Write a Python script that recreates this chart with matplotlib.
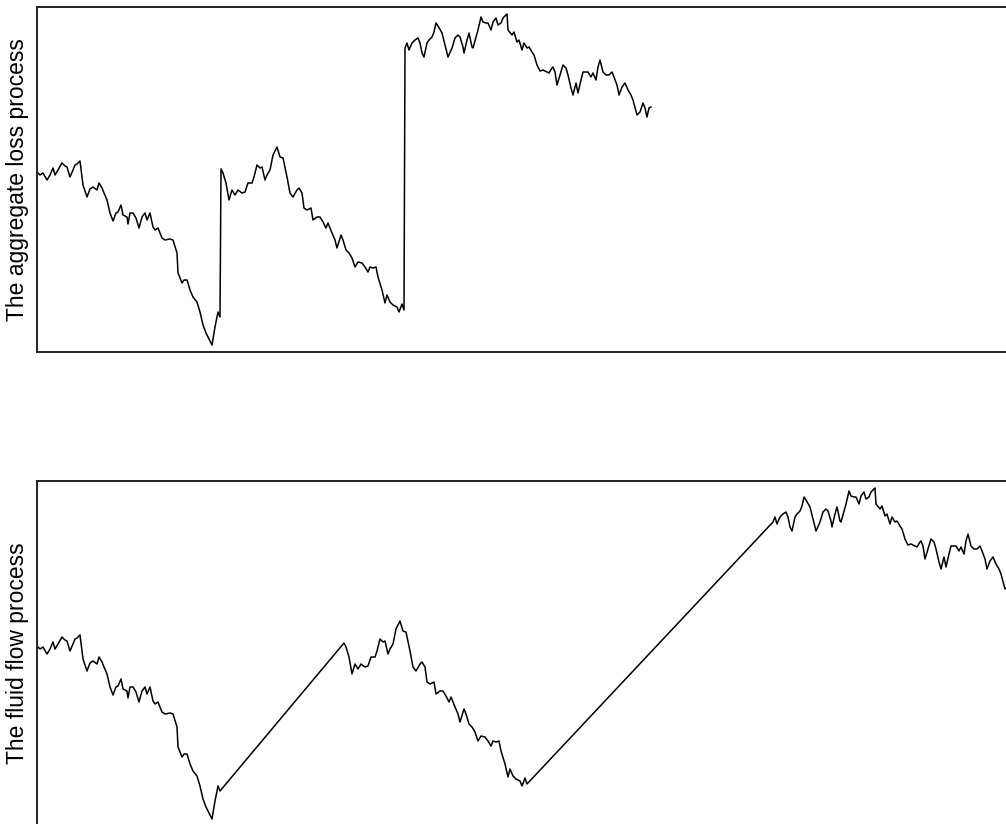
import numpy as np
import matplotlib
matplotlib.use("Agg")
import matplotlib.pyplot as plt

plt.rcParams["font.family"] = ["Liberation Sans", "DejaVu Sans"]

# ── aggregate loss process : three diffusive pieces separated by two jumps ──
seg1_t = [0.00, 0.03, 0.06, 0.10, 0.13, 0.16, 0.18, 0.21, 0.25, 0.28, 0.30, 0.33,
          0.36, 0.38, 0.40, 0.43, 0.46, 0.50, 0.53, 0.56, 0.60, 0.62, 0.65, 0.67,
          0.70, 0.73, 0.76, 0.79, 0.81, 0.84, 0.86, 0.90, 0.91, 0.93, 0.96, 0.99,
          1.02, 1.05, 1.08, 1.10, 1.13, 1.16, 1.18, 1.21, 1.25, 1.28, 1.33, 1.36,
          1.40, 1.41, 1.45, 1.47, 1.50, 1.53, 1.56, 1.60, 1.63, 1.66, 1.69, 1.71,
          1.75, 1.78, 1.81, 1.83]
seg1_L = [1.80, 1.77, 1.79, 1.72, 1.77, 1.84, 1.77, 1.82, 1.89, 1.86, 1.85, 1.75,
          1.82, 1.87, 1.88, 1.91, 1.67, 1.55, 1.63, 1.65, 1.62, 1.69, 1.64, 1.59,
          1.52, 1.39, 1.31, 1.39, 1.40, 1.47, 1.37, 1.35, 1.28, 1.39, 1.39, 1.34,
          1.24, 1.35, 1.39, 1.32, 1.39, 1.25, 1.22, 1.24, 1.14, 1.12, 1.13, 1.12,
          0.99, 0.79, 0.69, 0.72, 0.72, 0.62, 0.55, 0.50, 0.40, 0.27, 0.19, 0.15,
          0.07, 0.25, 0.40, 0.35]

seg2_t = [1.84, 1.86, 1.89, 1.92, 1.95, 1.98, 2.01, 2.05, 2.08, 2.11, 2.15, 2.17,
          2.20, 2.23, 2.25, 2.28, 2.30, 2.33, 2.36, 2.40, 2.43, 2.46, 2.50, 2.53,
          2.56, 2.60, 2.62, 2.65, 2.67, 2.70, 2.74, 2.76, 2.80, 2.83, 2.86, 2.89,
          2.91, 2.95, 2.98, 3.00, 3.04, 3.06, 3.09, 3.12, 3.15, 3.18, 3.21, 3.25,
          3.28, 3.31, 3.33, 3.36, 3.39, 3.41, 3.45, 3.48, 3.50, 3.53, 3.56, 3.60,
          3.62, 3.65, 3.67]
seg2_L = [1.83, 1.79, 1.69, 1.52, 1.62, 1.57, 1.62, 1.59, 1.60, 1.69, 1.69, 1.75,
          1.87, 1.84, 1.85, 1.72, 1.77, 1.82, 1.97, 2.05, 1.95, 1.94, 1.75, 1.59,
          1.55, 1.62, 1.64, 1.59, 1.44, 1.42, 1.44, 1.32, 1.35, 1.35, 1.30, 1.24,
          1.29, 1.19, 1.12, 1.04, 1.17, 1.12, 1.02, 0.99, 0.94, 0.85, 0.90, 0.89,
          0.85, 0.80, 0.85, 0.84, 0.85, 0.75, 0.62, 0.49, 0.57, 0.50, 0.47, 0.45,
          0.40, 0.48, 0.42]

seg3_t = [3.68, 3.70, 3.72, 3.75, 3.78, 3.81, 3.83, 3.85, 3.87, 3.90, 3.92, 3.95,
          3.97, 3.99, 4.01, 4.05, 4.08, 4.11, 4.15, 4.18, 4.21, 4.23, 4.26, 4.27,
          4.30, 4.32, 4.35, 4.36, 4.39, 4.41, 4.44, 4.46, 4.49, 4.51, 4.54, 4.56,
          4.59, 4.61, 4.64, 4.66, 4.70, 4.71, 4.75, 4.77, 4.80, 4.82, 4.85, 4.87,
          4.90, 4.92, 4.95, 4.97, 5.00, 5.03, 5.06, 5.10, 5.12, 5.15, 5.16, 5.18,
          5.20, 5.23, 5.26, 5.29, 5.31, 5.34, 5.36, 5.39, 5.41, 5.44, 5.46, 5.49,
          5.51, 5.54, 5.56, 5.59, 5.61, 5.63, 5.66, 5.69, 5.72, 5.75, 5.77, 5.80,
          5.82, 5.85, 5.88, 5.91, 5.94, 5.96, 6.00, 6.03, 6.06, 6.08, 6.10, 6.12,
          6.14]
seg3_L = [3.04, 3.09, 3.02, 3.09, 3.12, 3.14, 3.09, 2.99, 2.95, 3.09, 3.12, 3.15,
          3.20, 3.29, 3.26, 3.19, 3.07, 2.95, 3.04, 3.14, 3.17, 3.15, 3.05, 2.99,
          3.12, 3.19, 3.05, 3.04, 3.15, 3.22, 3.35, 3.30, 3.29, 3.29, 3.22, 3.30,
          3.34, 3.27, 3.29, 3.34, 3.38, 3.22, 3.17, 3.20, 3.10, 3.12, 3.02, 3.09,
          3.04, 3.05, 3.00, 2.97, 2.87, 2.81, 2.82, 2.80, 2.79, 2.84, 2.85, 2.80,
          2.67, 2.77, 2.87, 2.84, 2.77, 2.64, 2.57, 2.69, 2.59, 2.72, 2.80, 2.80,
          2.80, 2.75, 2.79, 2.72, 2.85, 2.92, 2.80, 2.77, 2.77, 2.80, 2.75, 2.67,
          2.57, 2.65, 2.69, 2.62, 2.57, 2.52, 2.37, 2.40, 2.49, 2.44, 2.35, 2.44,
          2.45]

# time the fluid version needs to climb each jump at constant rate
flow_durations = [1.23, 2.45]

segments = [(np.array(seg1_t), np.array(seg1_L)),
            (np.array(seg2_t), np.array(seg2_L)),
            (np.array(seg3_t), np.array(seg3_L))]

# loss process (jumps drawn as vertical lines)
loss_t = np.concatenate([s[0] for s in segments])
loss_L = np.concatenate([s[1] for s in segments])

# fluid flow: shift each later piece by the accumulated climbing time
flow_t, flow_L = [], []
shift = 0.0
for i, (t, L) in enumerate(segments):
    if i > 0:
        shift += flow_durations[i - 1]
    flow_t.append(t + shift)
    flow_L.append(L)
flow_t = np.concatenate(flow_t)
flow_L = np.concatenate(flow_L)

W, H = 1006, 824
fig = plt.figure(figsize=(W / 100, H / 100), dpi=100)

def px_axes(x0, y0, x1, y1):
    return fig.add_axes([x0 / W, 1 - y1 / H, (x1 - x0) / W, (y1 - y0) / H])

x_end = flow_t[-1]
ax1 = px_axes(37, 7, 37 + x_end * 100, 352)
ax2 = px_axes(37, 481, 37 + x_end * 100, 826)

for ax, t, L in [(ax1, loss_t, loss_L), (ax2, flow_t, flow_L)]:
    ax.plot(t, L, color="black", lw=1.1)
    ax.set_xlim(0, x_end)
    ax.set_ylim(0, 3.45)
    ax.set_xticks([])
    ax.set_yticks([])
    for sp in ax.spines.values():
        sp.set_linewidth(1.4)
        sp.set_color("#222222")

fig.text(18 / W, 1 - 180 / H, "The aggregate loss process", rotation=90,
         ha="center", va="center", fontsize=16.5)
fig.text(18 / W, 1 - 653 / H, "The fluid flow process", rotation=90,
         ha="center", va="center", fontsize=16.5)

fig.savefig("out.png", dpi=100)
